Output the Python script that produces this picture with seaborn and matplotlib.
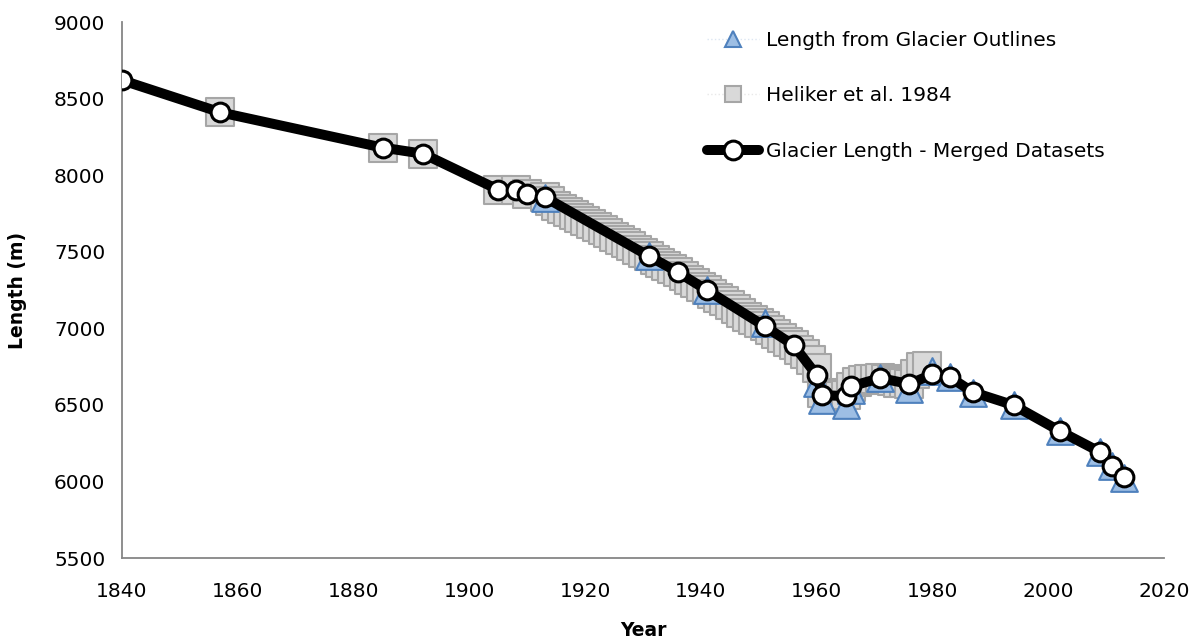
import matplotlib
matplotlib.use("Agg")
import matplotlib.pyplot as plt
from matplotlib.lines import Line2D
import seaborn as sns
import pandas as pd

# ---- data ----
merged_years = [1840, 1857, 1885, 1892, 1905, 1908, 1910, 1913, 1931, 1936, 1941, 1951,
                1956, 1960, 1961, 1965, 1966, 1971, 1976, 1980, 1983, 1987, 1994, 2002,
                2009, 2011, 2013]
merged_length = [8620, 8410, 8180, 8140, 7905, 7905, 7876, 7857, 7472, 7367, 7250, 7014,
                 6890, 6694, 6564, 6557, 6622, 6675, 6636, 6700, 6681, 6583, 6498, 6329,
                 6191, 6100, 6028]

outline_years = [1913, 1931, 1941, 1951, 1960, 1961, 1965, 1966, 1971, 1976, 1980, 1983,
                 1987, 1994, 2002, 2009, 2011, 2013]
outline_length = [7850, 7470, 7250, 7035, 6640, 6530, 6500, 6600, 6675, 6605, 6720, 6680,
                  6577, 6500, 6330, 6190, 6100, 6025]

heliker_years = [1857, 1885, 1892, 1905, 1908, 1910, 1913,
                 1914, 1915, 1916, 1917, 1918, 1919, 1920, 1921, 1922, 1923, 1924, 1925,
                 1926, 1927, 1928, 1929, 1930, 1931, 1932, 1933, 1934, 1935, 1936, 1937,
                 1938, 1939, 1940, 1941, 1942, 1943, 1944, 1945, 1946, 1947, 1948, 1949,
                 1950, 1951, 1952, 1953, 1954, 1955, 1956, 1957, 1958, 1959, 1960, 1961,
                 1962, 1963, 1964, 1965, 1966, 1967, 1968, 1969, 1970, 1971, 1972, 1973,
                 1974, 1975, 1976, 1977, 1978, 1979]
heliker_length = [8410, 8180, 8140, 7905, 7905, 7880, 7855,
                  7830, 7800, 7780, 7760, 7740, 7720, 7700, 7680, 7662, 7640, 7620, 7598,
                  7578, 7556, 7535, 7512, 7492, 7470, 7448, 7428, 7408, 7388, 7366, 7342,
                  7318, 7295, 7272, 7250, 7226, 7200, 7176, 7150, 7126, 7100, 7076, 7052,
                  7032, 7012, 6986, 6962, 6936, 6912, 6890, 6860, 6830, 6790, 6740, 6580,
                  6562, 6556, 6556, 6566, 6620, 6650, 6662, 6668, 6672, 6676, 6668, 6656,
                  6646, 6640, 6636, 6700, 6745, 6752]

# ---- figure ----
sns.set_style("white")
plt.rcParams["font.family"] = ["DejaVu Sans"]
plt.rcParams["text.color"] = "black"
plt.rcParams["axes.labelcolor"] = "black"
fig, ax = plt.subplots(figsize=(11.95, 6.44), dpi=100)
fig.subplots_adjust(left=0.1021, right=0.9741, bottom=0.1335, top=0.9658)

tri_face = "#9DBEE4"
tri_edge = "#4F81BD"
sq_face = "#D9D9D9"
sq_edge = "#A6A6A6"

sns.scatterplot(x=heliker_years, y=heliker_length, marker="s", s=380, color=sq_face,
                edgecolor=sq_edge, linewidth=1.5, ax=ax, zorder=2, legend=False)
sns.scatterplot(x=outline_years, y=outline_length, marker="^", s=370, color=tri_face,
                edgecolor=tri_edge, linewidth=1.5, ax=ax, zorder=3, legend=False)
sns.lineplot(x=merged_years, y=merged_length, ax=ax, color="black", lw=7.2,
             marker="o", markersize=13.5, markerfacecolor="white",
             markeredgecolor="black", markeredgewidth=2.2, zorder=4)

ax.set_xlim(1840, 2020)
ax.set_ylim(5500, 9000)
ax.set_xticks(range(1840, 2021, 20))
ax.set_yticks(range(5500, 9001, 500))

axis_col = "#868686"
for side in ["top", "right"]:
    ax.spines[side].set_visible(False)
for side in ["left", "bottom"]:
    ax.spines[side].set_color(axis_col)
    ax.spines[side].set_linewidth(1.3)
ax.tick_params(axis="both", which="major", direction="out", length=6, width=1.3,
               color=axis_col, labelsize=14.5, labelcolor="black")
ax.tick_params(axis="x", pad=10, length=7)
ax.tick_params(axis="y", pad=6)

ax.set_xlabel("Year", fontsize=13.5, fontweight="bold", labelpad=15)
ax.set_ylabel("Length (m)", fontsize=13.5, fontweight="bold", labelpad=19)

handles = [
    Line2D([0], [0], linestyle=":", color="#DCE6F2", lw=1, marker="^", markersize=12,
           markerfacecolor=tri_face, markeredgecolor=tri_edge, markeredgewidth=1.5),
    Line2D([0], [0], linestyle=":", color="#E8E8E8", lw=1, marker="s", markersize=12,
           markerfacecolor=sq_face, markeredgecolor=sq_edge, markeredgewidth=1.5),
    Line2D([0], [0], color="black", lw=7.2, marker="o", markersize=13.5,
           markerfacecolor="white", markeredgecolor="black", markeredgewidth=2.2),
]
labels = ["Length from Glacier Outlines", "Heliker et al. 1984",
          "Glacier Length - Merged Datasets"]
leg = ax.legend(handles, labels, loc="upper left", bbox_to_anchor=(0.561, 0.984),
                frameon=False, fontsize=14.5, handlelength=2.6, handletextpad=0.35,
                labelspacing=1.83, borderpad=0, borderaxespad=0)
for t in leg.get_texts():
    t.set_color("black")

fig.savefig("out.png", dpi=100)
